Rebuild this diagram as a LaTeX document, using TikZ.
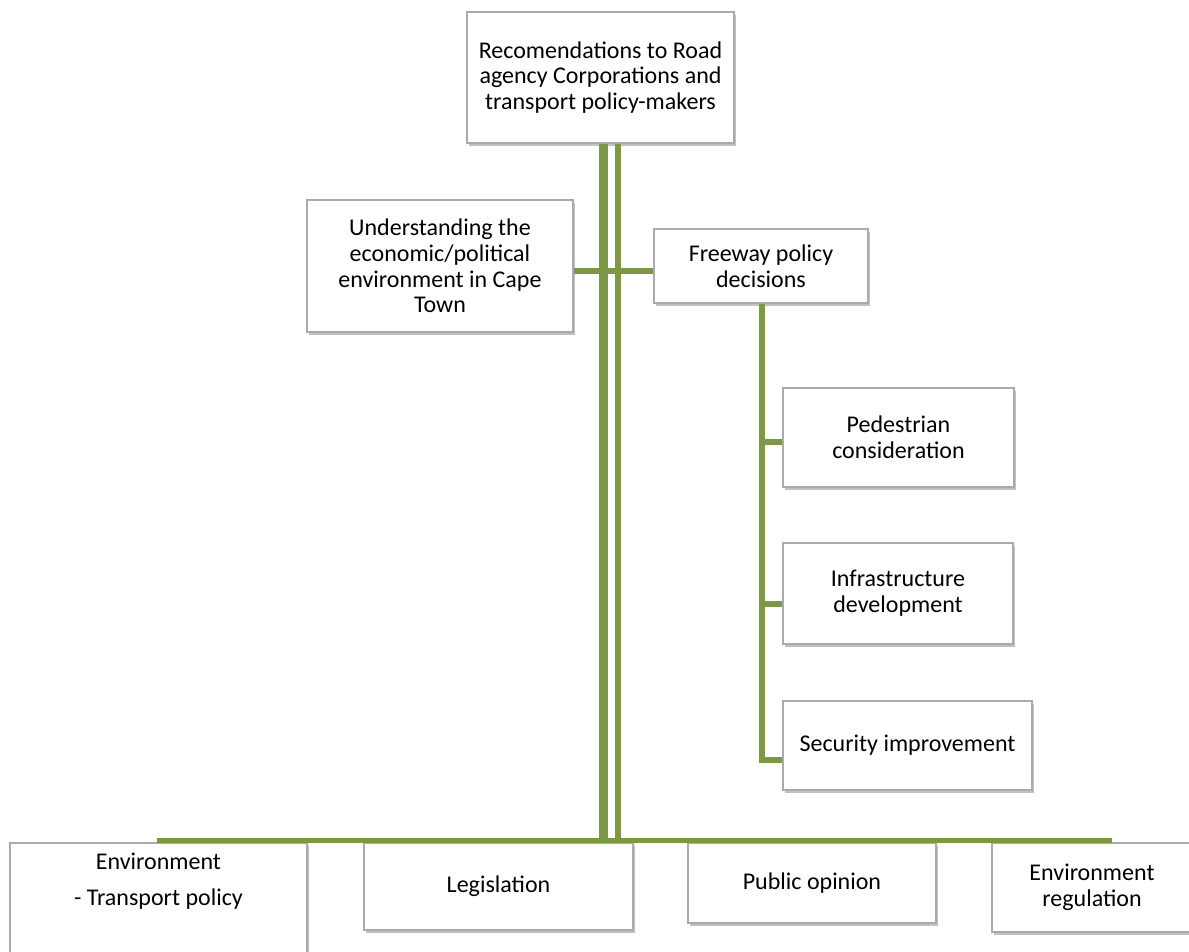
\documentclass[tikz,border=0pt]{standalone}
\usepackage{fontspec}
\setmainfont{Carlito}
\usetikzlibrary{shadows}
\definecolor{lineg}{RGB}{125,152,68}
\definecolor{boxline}{RGB}{170,170,170}
\begin{document}
\begin{tikzpicture}[x=0.75pt,y=-0.75pt,
  box/.style={draw=boxline, line width=0.9pt, fill=white, rectangle, align=center,
    inner sep=2pt, font=\fontsize{18}{19.3}\selectfont,
    drop shadow={shadow xshift=1.2pt, shadow yshift=-2pt, opacity=0.35, fill=black!70}},
  txt/.style={align=center, inner sep=0pt, font=\fontsize{18}{19.3}\selectfont},
  trunkA/.style={draw=lineg, line width=6.75pt},
  trunkB/.style={draw=lineg, line width=4.5pt},
  branch/.style={draw=lineg, line width=4pt},
  bus/.style={draw=lineg, line width=3.75pt}]
\useasboundingbox (0,0) rectangle (1189,951);
% boxes
\node[box, minimum width=200.25pt, minimum height=98.25pt] (top) at (600.5,77.5)
  {Recomendations to Road\\agency Corporations and\\transport policy-makers};
\node[box, minimum width=199.5pt, minimum height=99pt] (und) at (440,266)
  {Understanding the\\economic/political\\environment in Cape\\Town};
\node[box, minimum width=160.5pt, minimum height=55.5pt] (free) at (761,266)
  {Freeway policy\\decisions};
\node[box, minimum width=173.25pt, minimum height=74.25pt] (ped) at (898.5,437.5)
  {Pedestrian\\consideration};
\node[box, minimum width=172.5pt, minimum height=75.75pt] (inf) at (898,593.5)
  {Infrastructure\\development};
\node[box, minimum width=186.75pt, minimum height=66.75pt] (sec) at (907.5,745.5)
  {Security improvement};
\node[box, minimum width=222.75pt, minimum height=87.75pt] (env) at (158.5,901.5) {};
\node[txt] (envtext) at (158.5,881) {Environment\\[8pt]- Transport policy};
\node[box, minimum width=201.75pt, minimum height=65.25pt] (leg) at (498.5,886.5)
  {Legislation};
\node[box, minimum width=186pt, minimum height=60pt] (pub) at (812,883)
  {Public opinion};
\node[box, minimum width=150pt, minimum height=66.75pt] (reg) at (1092,887.5)
  {Environment\\regulation};
% connectors
\coordinate (busL) at (157,840.5);
\coordinate (busR) at (1112,840.5);
\draw[bus] (busL) -- (busR);
\coordinate (tA) at ([xshift=1.875pt]top.south);
\coordinate (tB) at ([xshift=13.125pt]top.south);
\draw[trunkA] (tA) -- (tA |- busL);
\draw[trunkB] (tB) -- (tB |- busL);
\coordinate (uo) at ([yshift=-3.75pt]und.east);
\draw[branch] (uo) -- (uo -| free.west);
\coordinate (pedin) at ([yshift=-3.375pt]ped.west);
\coordinate (infin) at ([yshift=-7.9pt]inf.west);
\coordinate (secin) at ([yshift=-10.875pt]sec.west);
\draw[branch] ([xshift=0.75pt]free.south) |- (secin);
\draw[branch] (pedin) -- (pedin -| free.south);
\draw[branch] (infin) -- (infin -| free.south);
\end{tikzpicture}
\end{document}
